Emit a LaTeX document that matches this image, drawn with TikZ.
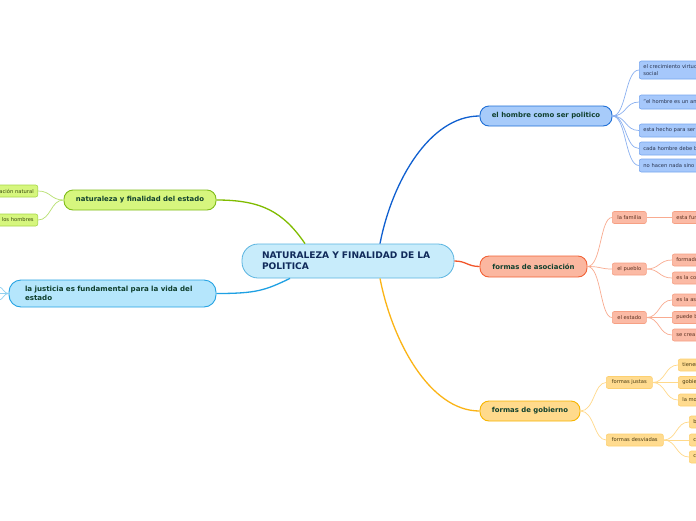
\documentclass[tikz,border=0pt]{standalone}
\usepackage{fontspec}
\setmainfont{DejaVu Sans}
\definecolor{cfill}{HTML}{C8ECFB}\definecolor{cdraw}{HTML}{5AB4E0}\definecolor{ctext}{HTML}{102A5A}
\definecolor{topictext}{HTML}{10402E}
\definecolor{hfill}{HTML}{A7CBFA}\definecolor{hdraw}{HTML}{1F6FD6}\definecolor{hedge}{HTML}{1060D0}
\definecolor{hcfill}{HTML}{A6C8FB}\definecolor{hcdraw}{HTML}{78A6EF}\definecolor{hcedge}{HTML}{8AB0F0}\definecolor{hctext}{HTML}{2A3550}
\definecolor{afill}{HTML}{FBB7A0}\definecolor{adraw}{HTML}{F26236}\definecolor{aedge}{HTML}{F2552A}
\definecolor{acfill}{HTML}{FBBAA5}\definecolor{acdraw}{HTML}{F6A084}\definecolor{acedge}{HTML}{F9AB90}\definecolor{actext}{HTML}{5A3020}
\definecolor{gfill}{HTML}{FFDA8C}\definecolor{gdraw}{HTML}{F7B500}\definecolor{gedge}{HTML}{FBB416}
\definecolor{gcfill}{HTML}{FFDB8F}\definecolor{gcdraw}{HTML}{FDD070}\definecolor{gcedge}{HTML}{FFD98A}\definecolor{gctext}{HTML}{4A3A10}
\definecolor{nfill}{HTML}{D6F67E}\definecolor{ndraw}{HTML}{80BD1A}\definecolor{nedge}{HTML}{80BC00}
\definecolor{ncdraw}{HTML}{A8D848}\definecolor{ncedge}{HTML}{B8E070}\definecolor{nctext}{HTML}{3A4A10}
\definecolor{jfill}{HTML}{B5E6FC}\definecolor{jdraw}{HTML}{25A3E3}\definecolor{jedge}{HTML}{1EA0E3}\definecolor{jcedge}{HTML}{8FD0F0}
\tikzset{
  topic/.style={draw, line width=0.9pt, rounded corners=9pt, inner sep=0pt, text=topictext,
     font=\fontsize{6.9}{8}\selectfont\bfseries, align=center},
  sub/.style={draw, line width=0.6pt, rounded corners=2pt, inner sep=0pt, inner xsep=4pt,
     font=\fontsize{5.2}{7}\selectfont, minimum height=12pt},
  leaf/.style={sub, minimum width=140pt, text width=132pt, align=left},
  mainedge/.style={line width=1.3pt},
  subedge/.style={line width=0.7pt},
}
\begin{document}
\begin{tikzpicture}[x=1pt,y=-1pt]
\path[use as bounding box, fill=white] (0,0) rectangle (696,520);
\clip (0,0) rectangle (696,520);

% central
\node[draw=cdraw, fill=cfill, line width=0.8pt, rounded corners=16pt, minimum width=212pt, minimum height=34pt,
  inner xsep=20pt, inner ysep=0pt, text width=172pt, align=left, text=ctext,
  font=\fontsize{9.1}{11}\selectfont\bfseries] (central) at (348,261) {NATURALEZA Y FINALIDAD DE LA\\POLITICA};

% topics
\node[topic, draw=hdraw, fill=hfill, minimum width=132pt, minimum height=20pt] (hombre) at (546,116) {el hombre como ser politico};
\node[topic, draw=adraw, fill=afill, minimum width=107pt, minimum height=21pt] (asoc) at (533.5,266.5) {formas de asociación};
\node[topic, draw=gdraw, fill=gfill, minimum width=100pt, minimum height=20pt] (gob) at (530,411) {formas de gobierno};
\node[topic, draw=ndraw, fill=nfill, minimum width=152pt, minimum height=20pt] (nat) at (140,200) {naturaleza y finalidad del estado};
\node[topic, draw=jdraw, fill=jfill, minimum width=207pt, minimum height=27pt, rounded corners=12pt,
  text width=175pt, align=left, font=\fontsize{7.1}{8.5}\selectfont\bfseries] (just) at (112.5,293.5)
  {la justicia es fundamental para la vida del\\estado};

% main edges
\draw[mainedge, hedge] ([xshift=32pt]central.north) .. controls +(12,-62) and +(-50,0) .. (hombre.west);
\draw[mainedge, gedge] ([xshift=32pt]central.south) .. controls +(12,62) and +(-50,0) .. (gob.west);
\draw[mainedge, aedge] (central.east) .. controls +(12,0) and +(-12,0) .. (asoc.west);
\draw[mainedge, nedge] ([xshift=-43pt]central.north) .. controls +(-22,-32) and +(45,0) .. (nat.east);
\draw[mainedge, jedge] ([xshift=-58pt]central.south) .. controls +(-25,12) and +(40,0) .. (just.east);

% hombre children
\tikzset{hleaf/.style={leaf, draw=hcdraw, fill=hcfill, text=hctext}}
\node[hleaf, anchor=west, minimum height=18pt, font=\fontsize{5.2}{7}\selectfont] (h1) at (639,70) {el crecimiento virtuoso se da en la vida\\social};
\node[hleaf, anchor=west, minimum height=14pt] (h2) at (639,102) {"el hombre es un animal politico"};
\node[hleaf, anchor=west, minimum height=13pt] (h3) at (639,130.5) {esta hecho para ser sociable};
\node[hleaf, anchor=west, minimum height=13pt] (h4) at (639,148.5) {cada hombre debe buscar el bien};
\node[hleaf, anchor=west, minimum height=13pt] (h5) at (639,165.5) {no hacen nada sino es en sociedad};
\foreach \c in {h1,h2,h3,h4,h5}
  \draw[subedge, hcedge] (hombre.east) .. controls +(14,0) and +(-14,0) .. (\c.west);

% asociacion children
\tikzset{amid/.style={sub, draw=acdraw, fill=acfill, text=actext, minimum width=34pt},
         aleaf/.style={leaf, draw=acdraw, fill=acfill, text=actext}}
\node[amid, anchor=west] (fam) at (612,217.5) {la familia};
\node[amid, anchor=west] (pue) at (612,269) {el pueblo};
\node[amid, anchor=west] (est) at (612,317.5) {el estado};
\foreach \c in {fam,pue,est}
  \draw[subedge, acedge] (asoc.east) .. controls +(14,0) and +(-12,0) .. (\c.west);
\node[aleaf, anchor=west] (fam1) at (672,217.5) {esta fundada en la naturaleza};
\node[aleaf, anchor=west] (pue1) at (672,260) {formado por familias};
\node[aleaf, anchor=west] (pue2) at (672,278) {es la comunidad};
\node[aleaf, anchor=west] (est1) at (672,300) {es la asociacion perfecta};
\node[aleaf, anchor=west] (est2) at (672,317.5) {puede bastarse a si misma};
\node[aleaf, anchor=west] (est3) at (672,335) {se crea para vivir bien};
\draw[subedge, acedge] (fam.east) -- (fam1.west);
\foreach \c in {pue1,pue2}
  \draw[subedge, acedge] (pue.east) .. controls +(13,0) and +(-13,0) .. (\c.west);
\foreach \c in {est1,est2,est3}
  \draw[subedge, acedge] (est.east) .. controls +(13,0) and +(-13,0) .. (\c.west);

% gobierno children
\tikzset{gmid/.style={sub, draw=gcdraw, fill=gcfill, text=gctext},
         gleaf/.style={leaf, draw=gcdraw, fill=gcfill, text=gctext}}
\node[gmid, anchor=west, minimum width=46pt] (just1) at (606,382.5) {formas justas};
\node[gmid, anchor=west, minimum width=57pt] (desv) at (606,440) {formas desviadas};
\foreach \c in {just1,desv}
  \draw[subedge, gcedge] (gob.east) .. controls +(14,0) and +(-12,0) .. (\c.west);
\node[gleaf, anchor=west] (j1) at (678,365) {tienen como fin el bien comun};
\node[gleaf, anchor=west] (j2) at (678,382.5) {gobierno de uno};
\node[gleaf, anchor=west] (j3) at (678,400) {la monarquia};
\node[gleaf, anchor=west] (d1) at (689,422) {buscan el bien propio};
\node[gleaf, anchor=west] (d2) at (689,440) {cambian el fin};
\node[gleaf, anchor=west] (d3) at (689,457) {corrompen};
\foreach \c in {j1,j2,j3}
  \draw[subedge, gcedge] (just1.east) .. controls +(13,0) and +(-13,0) .. (\c.west);
\foreach \c in {d1,d2,d3}
  \draw[subedge, gcedge] (desv.east) .. controls +(13,0) and +(-13,0) .. (\c.west);

% naturaleza children
\tikzset{nleaf/.style={sub, draw=ncdraw, fill=nfill, text=nctext, minimum width=100pt, text width=92pt, align=right}}
\node[nleaf, anchor=east] (n1) at (38,191) {es una asociación natural};
\node[nleaf, anchor=east] (n2) at (38,220) {el bien de los hombres};
\foreach \c in {n1,n2}
  \draw[subedge, ncedge] (nat.west) .. controls +(-13,0) and +(13,0) .. (\c.east);

% justicia children (off the left edge)
\coordinate (jc1) at (-1,287);
\coordinate (jc2) at (-1,293.5);
\coordinate (jc3) at (-1,300);
\foreach \c in {jc1,jc2,jc3}
  \draw[subedge, jcedge] (just.west) .. controls +(-5,0) and +(4,0) .. (\c);
\end{tikzpicture}
\end{document}
